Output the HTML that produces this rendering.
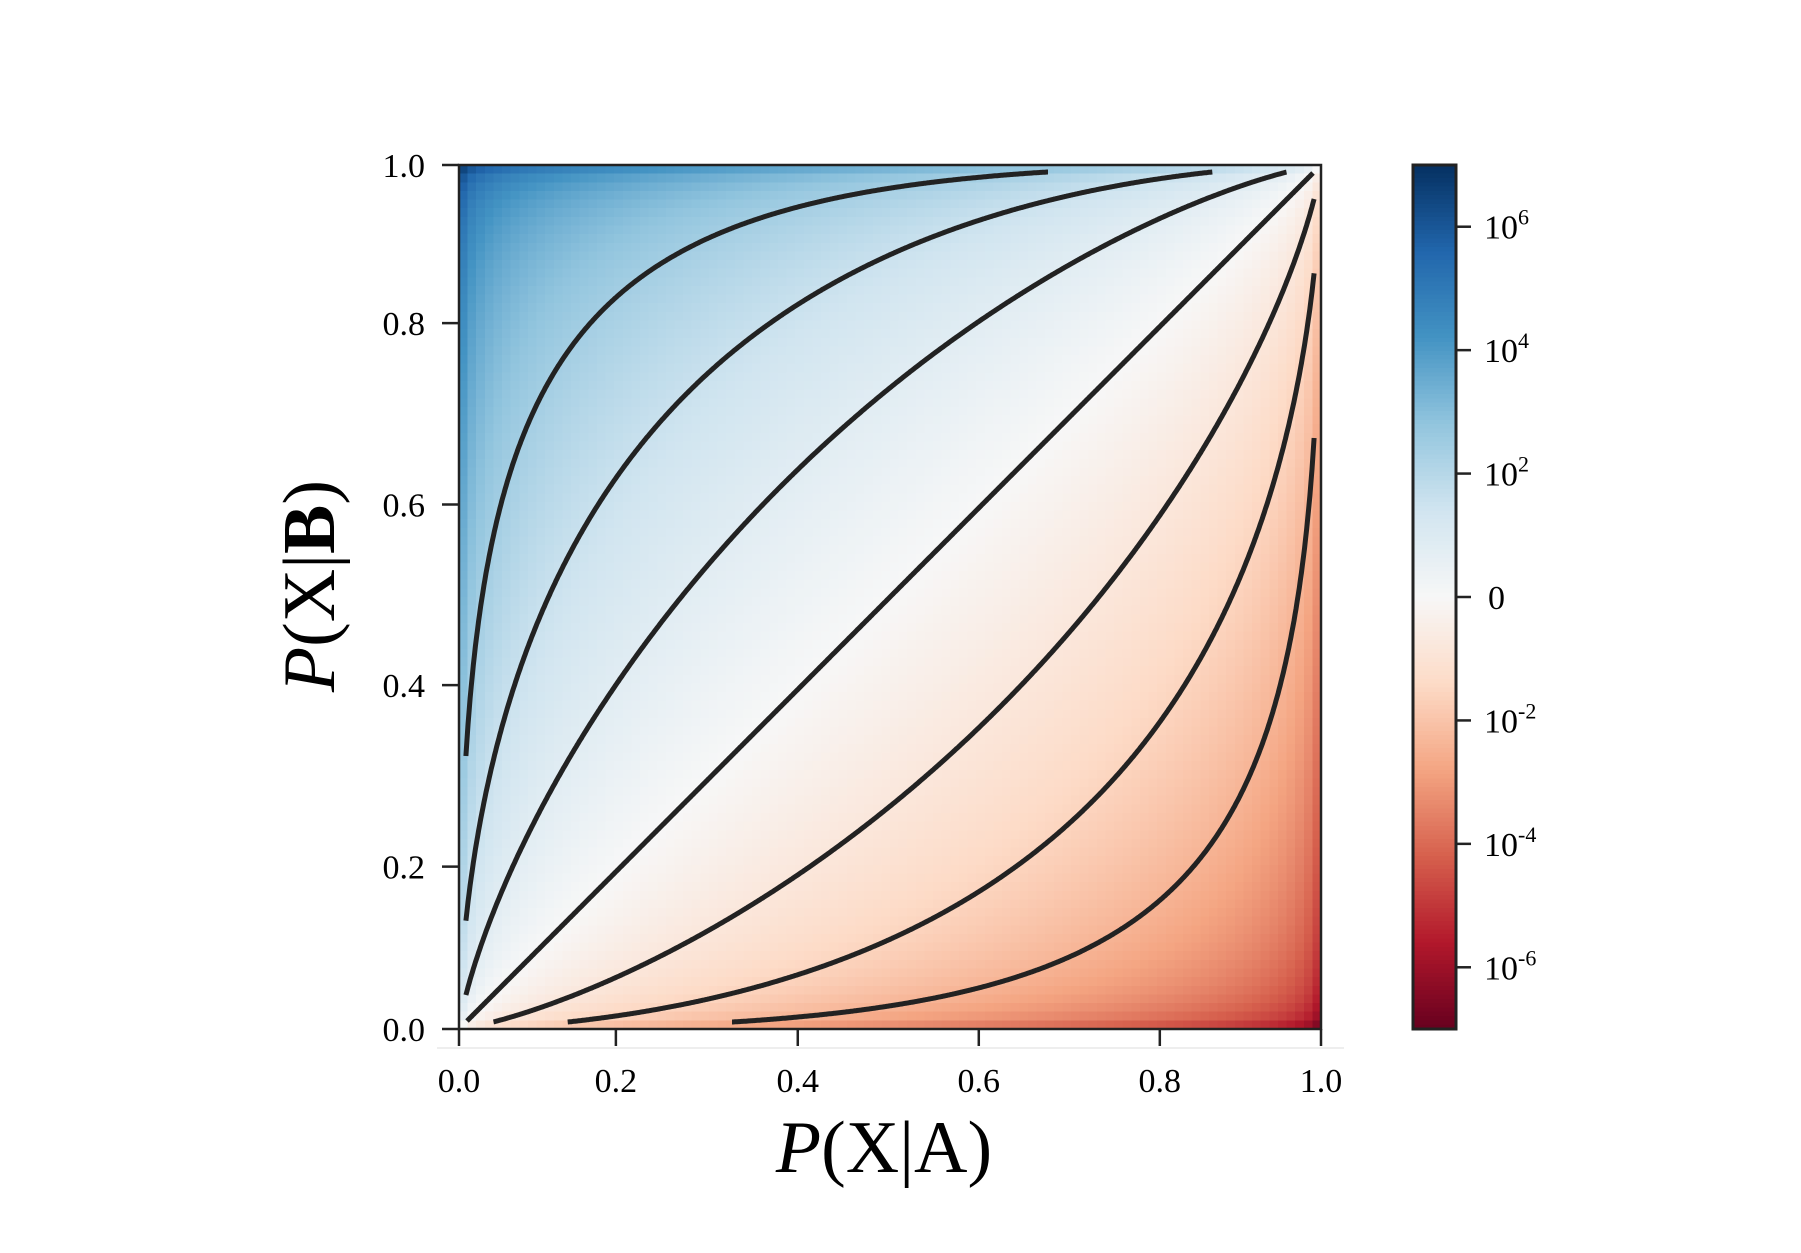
<!DOCTYPE html>
<html><head><meta charset="utf-8">
<style>
body{margin:0;background:#fff;}
#wrap{position:relative;width:1801px;height:1253px;overflow:hidden;background:#fff;font-family:"Liberation Serif",serif;color:#111;}
canvas{position:absolute;image-rendering:pixelated;}
</style></head>
<body>
<div id="wrap">
<canvas id="heat" width="100" height="100" style="left:459px;top:165px;width:862px;height:864px;"></canvas>
<canvas id="cbar" width="1" height="200" style="left:1413px;top:165px;width:43px;height:864px;"></canvas>
<svg id="svg" width="1801" height="1253" style="position:absolute;left:0;top:0"></svg>
</div>
<script>
// contour levels (probit differences)
const contourLevels = [-1.93, -1.26, -0.65, 0, 0.65, 1.26, 1.93];
const xTickLabels = ["0.0","0.2","0.4","0.6","0.8","1.0"];
const xTickFrac = [0, 0.182, 0.393, 0.603, 0.813, 1.0];
const yTickLabels = ["0.0","0.2","0.4","0.6","0.8","1.0"];
const yTickFrac = [0, 0.188, 0.398, 0.607, 0.817, 1.0];
const cbarTickExp = [6, 4, 2, 0, -2, -4, -6];
const cbarRange = [-7, 7];
const gridN = 100;

const PL=459, PR=1321, PT=165, PB=1029;
const CL=1413, CR=1456, CT=165, CB=1029;
const sx = v => PL + v*(PR-PL);
const sy = v => PB - v*(PB-PT);
const cy = d => CB - (d-cbarRange[0])/(cbarRange[1]-cbarRange[0])*(CB-CT);

const stops=[[103,0,31],[178,24,43],[214,96,77],[244,165,130],[253,219,199],[247,247,247],[209,229,240],[146,197,222],[67,147,195],[33,102,172],[5,48,97]];
function cmap(t){t=Math.max(0,Math.min(1,t));const f=t*10,i=Math.min(9,Math.floor(f)),r=f-i;
 return stops[i].map((c,k)=>Math.round(c+(stops[i+1][k]-c)*r));}
// probit (Acklam) and normal CDF
function probit(p){
 const a=[-3.969683028665376e+01,2.209460984245205e+02,-2.759285104469687e+02,1.383577518672690e+02,-3.066479806614716e+01,2.506628277459239e+00];
 const b=[-5.447609879822406e+01,1.615858368580409e+02,-1.556989798598866e+02,6.680131188771972e+01,-1.328068155288572e+01];
 const c=[-7.784894002430293e-03,-3.223964580411365e-01,-2.400758277161838e+00,-2.549732539343734e+00,4.374664141464968e+00,2.938163982698783e+00];
 const d=[7.784695709041462e-03,3.224671290700398e-01,2.445134137142996e+00,3.754408661907416e+00];
 const pl=0.02425;let q,r;
 if(p<pl){q=Math.sqrt(-2*Math.log(p));return (((((c[0]*q+c[1])*q+c[2])*q+c[3])*q+c[4])*q+c[5])/((((d[0]*q+d[1])*q+d[2])*q+d[3])*q+1);}
 if(p<=1-pl){q=p-0.5;r=q*q;return (((((a[0]*r+a[1])*r+a[2])*r+a[3])*r+a[4])*r+a[5])*q/(((((b[0]*r+b[1])*r+b[2])*r+b[3])*r+b[4])*r+1);}
 q=Math.sqrt(-2*Math.log(1-p));return -(((((c[0]*q+c[1])*q+c[2])*q+c[3])*q+c[4])*q+c[5])/((((d[0]*q+d[1])*q+d[2])*q+d[3])*q+1);
}
function ncdf(z){const t=1/(1+0.2316419*Math.abs(z));const y=t*(0.319381530+t*(-0.356563782+t*(1.781477937+t*(-1.821255978+t*1.330274429))));
 const v=1-Math.exp(-z*z/2)/Math.sqrt(2*Math.PI)*y;return z>=0?v:1-v;}
const K=1.25;

const hc=document.getElementById('heat').getContext('2d');
const img=hc.createImageData(gridN,gridN);
for(let j=0;j<gridN;j++)for(let i=0;i<gridN;i++){
 const x=(i+0.5)/gridN,y=(gridN-j-0.5)/gridN;
 const dec=(probit(y)-probit(x))*K;
 const c=cmap((dec-cbarRange[0])/(cbarRange[1]-cbarRange[0]));
 const o=(j*gridN+i)*4;img.data[o]=c[0];img.data[o+1]=c[1];img.data[o+2]=c[2];img.data[o+3]=255;}
hc.putImageData(img,0,0);
const cc=document.getElementById('cbar').getContext('2d');
for(let j=0;j<200;j++){const c=cmap(1-(j+0.5)/200);cc.fillStyle=`rgb(${c})`;cc.fillRect(0,j,1,1);}

const svg=document.getElementById('svg');const NS='http://www.w3.org/2000/svg';
function el(t,a,txt){const e=document.createElementNS(NS,t);for(const k in a)e.setAttribute(k,a[k]);if(txt!=null)e.textContent=txt;svg.appendChild(e);return e;}

let fl=el('line',{x1:437,y1:1048,x2:1344,y2:1048,stroke:'#eeeeee','stroke-width':2});



const lo=0.008,hi=0.992;
contourLevels.forEach((c,idx)=>{
 let pts=[];
 for(let k=0;k<=800;k++){const x=lo+(hi-lo)*k/800;const y=ncdf(probit(x)+c);
  if(y>=lo&&y<=hi)pts.push(sx(x).toFixed(1)+','+sy(y).toFixed(1));}
 const p=el('polyline',{points:pts.join(' '),fill:'none',stroke:'#222','stroke-width':5,'stroke-linecap':'butt','stroke-linejoin':'round'});
 
 
});

let fr=el('rect',{x:PL,y:PT,width:PR-PL,height:PB-PT,fill:'none',stroke:'#222','stroke-width':2.5});


let cf=el('rect',{x:CL,y:CT,width:CR-CL,height:CB-CT,fill:'none',stroke:'#222','stroke-width':3});



xTickFrac.forEach((f,i)=>{const x=sx(f);
 const t=el('line',{x1:x,y1:PB,x2:x,y2:PB+17,stroke:'#222','stroke-width':2.5});
 
 
 const l=el('text',{x:x,y:1092,'font-size':34,'text-anchor':'middle'},xTickLabels[i]);
 
 
});
yTickFrac.forEach((f,i)=>{const y=sy(f);
 const t=el('line',{x1:PL-17,y1:y,x2:PL,y2:y,stroke:'#222','stroke-width':2.5});
 
 
 const l=el('text',{x:425,y:y+12,'font-size':34,'text-anchor':'end'},yTickLabels[i]);
 
 
});
cbarTickExp.forEach(e=>{const y=cy(e);
 const t=el('line',{x1:CR,y1:y,x2:CR+15,y2:y,stroke:'#222','stroke-width':2.5});
 
 
 const l=el('text',{x:1484,y:y+12,'font-size':34});
 
 
 if(e===0){l.setAttribute('x',1488);l.textContent='0';}
 else{const a=document.createElementNS(NS,'tspan');a.textContent='10';l.appendChild(a);
  const b=document.createElementNS(NS,'tspan');b.setAttribute('dy',-14);b.setAttribute('font-size',22);b.textContent=String(e);l.appendChild(b);}
});

const xt=el('text',{x:884,y:1172,'font-size':74,'text-anchor':'middle'});


xt.innerHTML='<tspan font-style="italic">P</tspan>(X|A)';
const yt=el('text',{x:0,y:0,'font-size':74,'text-anchor':'middle',transform:'translate(334,586) rotate(-90)'});


yt.innerHTML='<tspan font-style="italic">P</tspan>(X|<tspan font-weight="bold">B</tspan>)';
</script>
</body></html>
